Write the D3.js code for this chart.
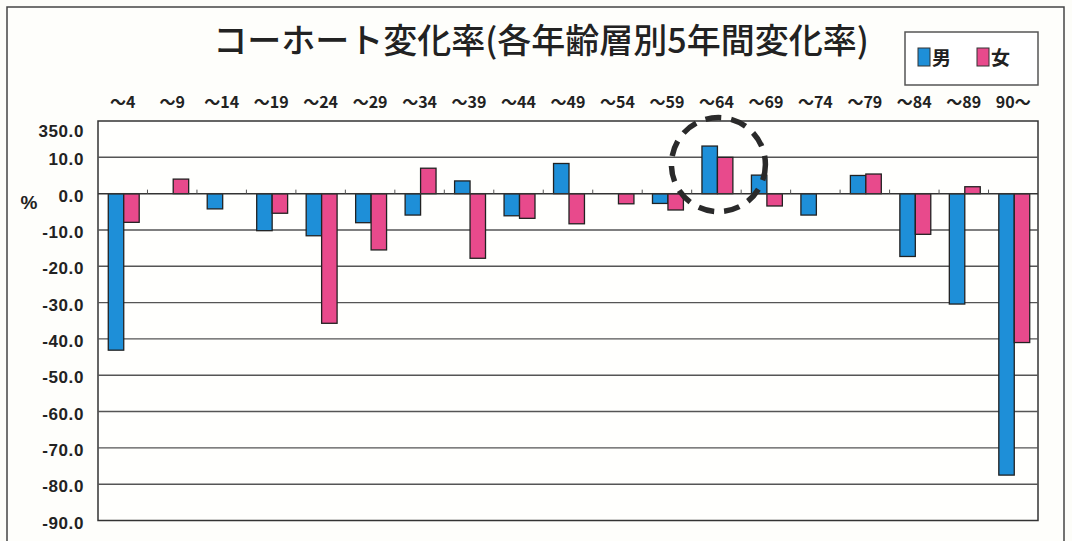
<!DOCTYPE html>
<html><head><meta charset="utf-8">
<script src="https://cdn.jsdelivr.net/npm/d3@7"></script>
<style>
html,body{margin:0;padding:0;background:#fdfdf9;}
svg{display:block;}
</style></head>
<body>
<svg id="chart" width="1072" height="541"></svg>
<script>
const categories = ["～4","～9","～14","～19","～24","～29","～34","～39","～44","～49","～54","～59","～64","～69","～74","～79","～84","～89","90～"];
const male   = [-43.1, 0, -4.2, -10.2, -11.6, -8.0, -5.9, 3.5, -6.1, 8.3, 0, -2.7, 13.1, 5.1, -5.9, 5.0, -17.3, -30.4, -77.5];
const female = [-7.9, 4.0, 0, -5.4, -35.7, -15.5, 7.0, -17.8, -6.8, -8.3, -2.8, -4.5, 10.0, -3.4, 0, 5.4, -11.2, 1.9, -41.0];
const seriesNames = ["男","女"];
const tickValues = [20,10,0,-10,-20,-30,-40,-50,-60,-70,-80,-90];
const tickLabels = ["350.0","10.0","0.0","-10.0","-20.0","-30.0","-40.0","-50.0","-60.0","-70.0","-80.0","-90.0"];
const title = "コーホート変化率(各年齢層別5年間変化率)";
const highlightCategory = "～64";
const highlightValue = 8;

const colors = {"男":"#1e8fd8","女":"#e84a8c"};
const svg = d3.select("#chart");
const m = {left:98, right:1038, top:121, bottom:520.5};

// outer frame
svg.append("rect").attr("x",7).attr("y",7).attr("width",1057).attr("height",545)
  .attr("fill","#fefefb").attr("stroke","#444").attr("stroke-width",1.5);

const x = d3.scaleBand().domain(categories).range([m.left,m.right]).paddingInner(0).paddingOuter(0);
const inner = d3.scaleBand().domain(seriesNames).range([0,x.bandwidth()]).paddingInner(0).paddingOuter(0.6);
const y = d3.scaleLinear().domain([-90,20]).range([m.bottom,m.top]);

// plot area
svg.append("rect").attr("x",m.left).attr("y",m.top).attr("width",m.right-m.left).attr("height",m.bottom-m.top)
  .attr("fill","#fffffd").attr("stroke","#333").attr("stroke-width",1.5);

// gridlines
svg.append("g").selectAll("line").data(tickValues.filter(v=>v!==20 && v!==-90 && v!==0)).join("line")
  .attr("x1",m.left).attr("x2",m.right).attr("y1",d=>y(d)).attr("y2",d=>y(d))
  .attr("stroke","#555").attr("stroke-width",1.4);

// y axis labels
const yAxis = d3.axisLeft(y).tickValues(tickValues).tickSize(0).tickPadding(14)
  .tickFormat((d,i)=>tickLabels[i]);
const ga = svg.append("g").attr("transform",`translate(${m.left},0)`).call(yAxis);
ga.select(".domain").remove();
ga.selectAll("text").attr("font-family","Liberation Sans, Arial, sans-serif").attr("font-weight","bold")
  .attr("font-size",17).attr("letter-spacing","0.6px").attr("fill","#222")
  .attr("dy",(d)=> d===20 ? "0.9em" : "0.45em");

svg.append("text").attr("x",29).attr("y",209).attr("text-anchor","middle")
  .attr("font-family","Liberation Sans, Arial, sans-serif").attr("font-weight","bold").attr("font-size",19)
  .attr("fill","#222").text("%");

// bars
const data = categories.map((c,i)=>({c, vals:[{s:"男",v:male[i]},{s:"女",v:female[i]}]}));
const g = svg.append("g").selectAll("g").data(data).join("g").attr("transform",d=>`translate(${x(d.c)+1},0)`);
g.selectAll("rect").data(d=>d.vals.filter(e=>e.v!==0)).join("rect")
  .attr("x",d=>inner(d.s)).attr("width",inner.bandwidth())
  .attr("y",d=>y(Math.max(0,d.v))).attr("height",d=>Math.abs(y(d.v)-y(0)))
  .attr("fill",d=>colors[d.s]).attr("stroke","#222").attr("stroke-width",1.3);

// zero axis line with small ticks
svg.append("line").attr("x1",m.left).attr("x2",m.right).attr("y1",y(0)).attr("y2",y(0))
  .attr("stroke","#333").attr("stroke-width",1.5);
svg.append("g").selectAll("line").data(categories.slice(1)).join("line")
  .attr("x1",d=>x(d)).attr("x2",d=>x(d)).attr("y1",y(0)).attr("y2",y(0)-4)
  .attr("stroke","#555").attr("stroke-width",1);

// category labels at top
svg.append("g").selectAll("text").data(categories).join("text")
  .attr("x",d=>x(d)+x.bandwidth()/2).attr("y",108).attr("text-anchor","middle")
  .attr("font-family","Noto Sans CJK JP, sans-serif").attr("font-weight","bold").attr("font-size",16)
  .attr("fill","#222").text(d=>d);

// title
svg.append("text").attr("x",541).attr("y",53).attr("text-anchor","middle")
  .attr("font-family","Noto Sans CJK JP, sans-serif").attr("font-weight","500").attr("font-size",34)
  .attr("fill","#222").text(title);

// legend
const lg = svg.append("g");
lg.append("rect").attr("x",905).attr("y",32).attr("width",133).attr("height",53)
  .attr("fill","#fff").attr("stroke","#555").attr("stroke-width",1.5);
const litems = [{s:"男",x:918},{s:"女",x:977}];
litems.forEach(it=>{
  lg.append("rect").attr("x",it.x).attr("y",48).attr("width",12).attr("height",18)
    .attr("fill",colors[it.s]).attr("stroke","#333").attr("stroke-width",1);
  lg.append("text").attr("x",it.x+14).attr("y",65).attr("font-family","Noto Sans CJK JP, sans-serif")
    .attr("font-weight","bold").attr("font-size",19).attr("fill","#222").text(it.s);
});

// dashed highlight circle
svg.append("circle").attr("cx",x(highlightCategory)+x.bandwidth()/2+2).attr("cy",y(highlightValue)).attr("r",47)
  .attr("fill","none").attr("stroke","#2a2a2a").attr("stroke-width",5.5).attr("stroke-dasharray","16,10");
</script>
</body></html>
